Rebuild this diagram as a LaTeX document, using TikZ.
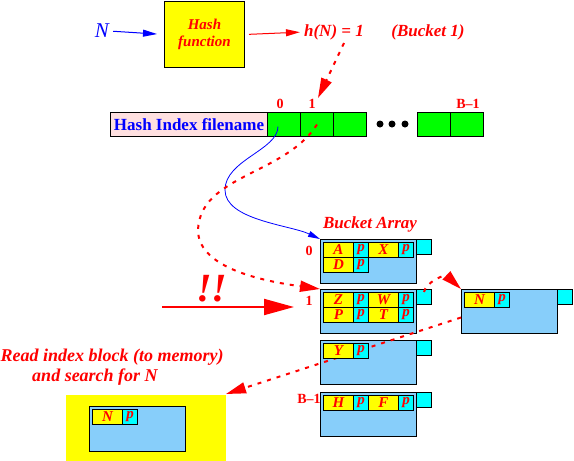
\documentclass[tikz,border=0pt]{standalone}
\usepackage{fontspec}
\setmainfont{Liberation Serif}
\usetikzlibrary{arrows.meta}
\definecolor{lblue}{RGB}{135,206,250}
\definecolor{pinkish}{RGB}{255,224,224}
\definecolor{green1}{RGB}{0,255,0}
\definecolor{cyan1}{RGB}{0,255,255}
\definecolor{yellow1}{RGB}{255,255,0}
\definecolor{red1}{RGB}{255,0,0}
\definecolor{blue1}{RGB}{0,0,255}
\newcommand{\fs}[1]{\fontsize{#1}{#1}\selectfont}
\newcommand{\kentry}[4]{%
  \node[ycell] (#1k) at (#2,#3) {#4};
  \node[ccell] (#1p) at ({#2+30},#3) {p};}
\newcommand{\bucketat}[3]{%
  \node[bucketbox] (#1) at (#2,#3) {};
  \node[tabbox] (#1tab) at ({#2+96},#3) {};}
\begin{document}
\begin{tikzpicture}[x=1pt,y=-1pt,
  box/.style={draw, line width=1pt, inner sep=0pt, anchor=north west},
  ycell/.style={box, fill=yellow1, minimum width=30pt, minimum height=15pt, text=red1, font=\bfseries\itshape\fs{15}},
  ccell/.style={box, fill=cyan1, minimum width=15pt, minimum height=15pt, text=red1, font=\bfseries\itshape\fs{15}},
  bucketbox/.style={box, fill=lblue, minimum width=96pt, minimum height=44pt},
  tabbox/.style={box, fill=cyan1, minimum width=15pt, minimum height=15pt},
  gcell/.style={box, fill=green1, minimum width=33pt, minimum height=24pt},
  redtxt/.style={text=red1, font=\bfseries\itshape\fs{17}, inner sep=0pt},
  lbl/.style={text=red1, font=\bfseries\fs{14}, inner sep=0pt},
  dot/.style={circle, fill=black, minimum size=7pt, inner sep=0pt},
  thinarrow/.style={line width=1pt, -{Triangle[length=14pt,width=7pt]}},
  dasharrow/.style={red1, line width=2pt, dash pattern=on 4pt off 6pt, -{Triangle[length=20pt,width=11pt]}},
]
\useasboundingbox (0,0) rectangle (574,461);

% top row
\node[text=blue1, font=\itshape\fs{21}, inner sep=0pt] (Nlbl) at (102,31) {N};
\node[box, fill=yellow1, minimum width=80pt, minimum height=66pt, text=red1, align=center,
      font=\bfseries\itshape\fs{15}] (hashfn) at (164,1) {Hash\\[2pt]function};
\node[redtxt] (hN) at (334,32) {h(N) = 1};
\node[redtxt] (bk1) at (428,32) {(Bucket 1)};
\draw[blue1, thinarrow, shorten <=4pt, shorten >=7pt] (Nlbl.east) -- (hashfn.west);
\draw[red1, thinarrow, shorten <=4pt, shorten >=4pt] (hashfn.east) -- (hN.west);
\coordinate (hNfoot) at (344,43);
\coordinate (c1tip) at (318,98);
\draw[dasharrow] (hNfoot) -- (c1tip);

% hash index
\node[box, fill=pinkish, minimum width=157pt, minimum height=24pt, text=blue1,
      font=\bfseries\fs{17}] (hif) at (110,112) {Hash Index filename};
\node[gcell] (hi0) at (267,112) {};
\node[gcell] (hi1) at (300,112) {};
\node[gcell] (hi2) at (333,112) {};
\node[gcell] (hiB) at (417,112) {};
\node[gcell] (hiC) at (450,112) {};
\node[dot] (d1) at (380,124) {};
\node[dot] (d2) at (392,124) {};
\node[dot] (d3) at (405,124) {};
\node[lbl] (l0) at (280,104) {0};
\node[lbl] (l1) at (312,104) {1};
\node[lbl] (lB) at (468,104) {B–1};

% bucket boxes
\node[redtxt] (barr) at (370,224) {Bucket Array};
\bucketat{b0}{320}{239}
\bucketat{b1}{320}{289}
\bucketat{b2}{320}{340}
\bucketat{bB}{320}{392}
\bucketat{bo}{461}{289}
\node[lbl] (lb0) at (309,251) {0};
\node[lbl] (lb1) at (309,301) {1};
\node[lbl] (lbB) at (309,399) {B–1};

% memory block
\node[box, draw=none, fill=yellow1, minimum width=160pt, minimum height=70pt] (ybox) at (65,394) {};
\node[bucketbox, minimum height=45pt] (bm) at (89,406) {};
\node[redtxt, font=\bfseries\itshape\fs{18}] (rd1) at (112,357) {Read index block (to memory)};
\node[redtxt, font=\bfseries\itshape\fs{18}] (rd2) at (95,377) {and search for N};

% connectors under the entries
\draw[dasharrow] ([yshift=-3pt]b1tab.north) .. controls (426,282) and (445,274) .. (bo.north west);
\draw[dasharrow] ([yshift=-6pt]bo.west) -- (ybox.north east);

% entries
\kentry{b0a}{323}{242}{A}
\kentry{b0x}{368}{242}{X}
\kentry{b0d}{323}{257}{D}
\kentry{b1z}{323}{292}{Z}
\kentry{b1w}{368}{292}{W}
\kentry{b1p}{323}{307}{P}
\kentry{b1t}{368}{307}{T}
\kentry{b2y}{323}{343}{Y}
\kentry{bBh}{323}{395}{H}
\kentry{bBf}{368}{395}{F}
\kentry{bon}{464}{292}{N}
\kentry{bmn}{92}{409}{N}

% !! and arrow
\node[text=red1, font=\bfseries\itshape\fs{40}, inner sep=0pt] (bang) at (212,289) {!!};
\coordinate (bangtail) at (162,307);
\coordinate (bangtip) at (294,307);
\draw[red1, line width=2pt, -{Triangle[length=30pt,width=16pt]}] (bangtail) -- (bangtip);

% curves from the hash index
\draw[blue1, line width=0.8pt, -{Triangle[length=12pt,width=6pt]}]
  ([xshift=-6pt,yshift=-2pt]hi0.center) .. controls (278,150) and (225,160) .. (225,190)
  .. controls (225,220) and (290,225) .. (b0.north west);
\draw[dasharrow] (hi1.center) .. controls (285,175) and (200,175) .. (198,230)
  .. controls (198,270) and (270,282) .. (b1.north west);
\end{tikzpicture}
\end{document}
